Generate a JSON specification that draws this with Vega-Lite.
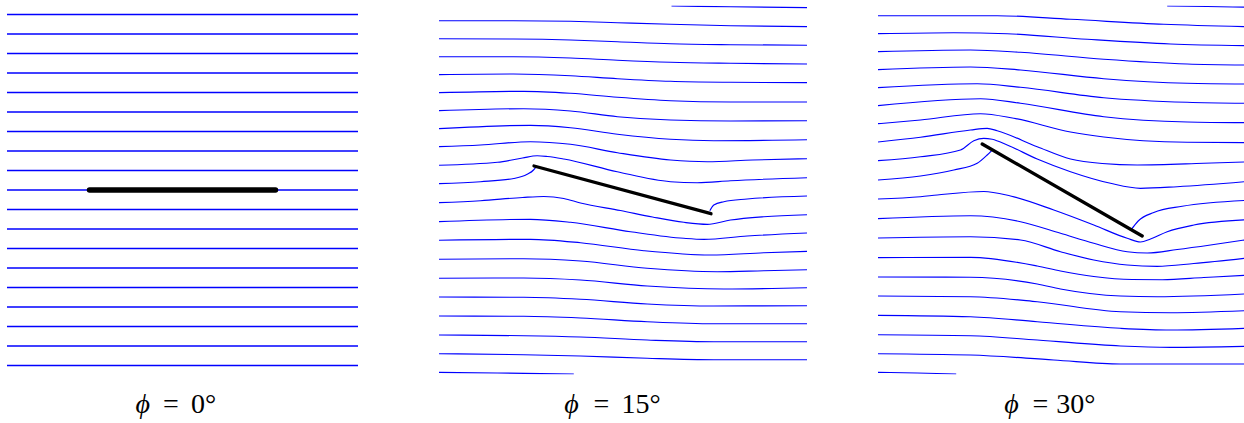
{
"$schema": "https://vega.github.io/schema/vega-lite/v6.json",
"padding": {"left": 7, "top": 5.5, "right": 0, "bottom": 0},
"spacing": 71,
"bounds": "flush",
"config": {"view": {"stroke": null}},
"datasets": {
"p1": [
{"line":"a","x":-1.755,"y":1.755},{"line":"a","x":1.755,"y":1.755},
{"line":"b","x":-1.755,"y":1.56},{"line":"b","x":1.755,"y":1.56},
{"line":"c","x":-1.755,"y":1.365},{"line":"c","x":1.755,"y":1.365},
{"line":"d","x":-1.755,"y":1.17},{"line":"d","x":1.755,"y":1.17},
{"line":"e","x":-1.755,"y":0.975},{"line":"e","x":1.755,"y":0.975},
{"line":"f","x":-1.755,"y":0.78},{"line":"f","x":1.755,"y":0.78},
{"line":"g","x":-1.755,"y":0.585},{"line":"g","x":1.755,"y":0.585},
{"line":"h","x":-1.755,"y":0.39},{"line":"h","x":1.755,"y":0.39},
{"line":"i","x":-1.755,"y":0.195},{"line":"i","x":1.755,"y":0.195},
{"line":"j","x":-1.755,"y":0},{"line":"j","x":1.755,"y":0},
{"line":"k","x":-1.755,"y":-0.195},{"line":"k","x":1.755,"y":-0.195},
{"line":"l","x":-1.755,"y":-0.39},{"line":"l","x":1.755,"y":-0.39},
{"line":"m","x":-1.755,"y":-0.585},{"line":"m","x":1.755,"y":-0.585},
{"line":"n","x":-1.755,"y":-0.78},{"line":"n","x":1.755,"y":-0.78},
{"line":"o","x":-1.755,"y":-0.975},{"line":"o","x":1.755,"y":-0.975},
{"line":"p","x":-1.755,"y":-1.17},{"line":"p","x":1.755,"y":-1.17},
{"line":"q","x":-1.755,"y":-1.365},{"line":"q","x":1.755,"y":-1.365},
{"line":"r","x":-1.755,"y":-1.56},{"line":"r","x":1.755,"y":-1.56},
{"line":"s","x":-1.755,"y":-1.755},{"line":"s","x":1.755,"y":-1.755}
],
"plate1": [{"x":-0.93,"y":0},{"x":0.93,"y":0}],
"p2": [
{"line":"T","x":0.49,"y":1.84},{"line":"T","x":1.08,"y":1.833},{"line":"T","x":1.845,"y":1.823},
{"line":"A","x":-1.835,"y":1.693},{"line":"A","x":-1.09,"y":1.693},{"line":"A","x":-0.52,"y":1.687},{"line":"A","x":-0.05,"y":1.673},{"line":"A","x":0.48,"y":1.657},{"line":"A","x":1.08,"y":1.643},{"line":"A","x":1.845,"y":1.633},
{"line":"B","x":-1.835,"y":1.513},{"line":"B","x":-1.09,"y":1.51},{"line":"B","x":-0.52,"y":1.5},{"line":"B","x":-0.05,"y":1.483},{"line":"B","x":0.48,"y":1.463},{"line":"B","x":1.08,"y":1.453},{"line":"B","x":1.845,"y":1.447},
{"line":"C","x":-1.835,"y":1.333},{"line":"C","x":-1.09,"y":1.333},{"line":"C","x":-0.52,"y":1.32},{"line":"C","x":-0.05,"y":1.297},{"line":"C","x":0.48,"y":1.277},{"line":"C","x":1.08,"y":1.267},{"line":"C","x":1.845,"y":1.26},
{"line":"D","x":-1.835,"y":1.153},{"line":"D","x":-1.09,"y":1.16},{"line":"D","x":-0.52,"y":1.143},{"line":"D","x":-0.05,"y":1.113},{"line":"D","x":0.48,"y":1.087},{"line":"D","x":1.08,"y":1.077},{"line":"D","x":1.845,"y":1.073},
{"line":"E","x":-1.835,"y":0.973},{"line":"E","x":-0.987,"y":0.987},{"line":"E","x":-0.52,"y":0.967},{"line":"E","x":-0.05,"y":0.927},{"line":"E","x":0.48,"y":0.893},{"line":"E","x":1.08,"y":0.88},{"line":"E","x":1.845,"y":0.88},
{"line":"F","x":-1.835,"y":0.793},{"line":"F","x":-0.987,"y":0.813},{"line":"F","x":-0.52,"y":0.79},{"line":"F","x":-0.05,"y":0.733},{"line":"F","x":0.48,"y":0.7},{"line":"F","x":1.08,"y":0.69},{"line":"F","x":1.845,"y":0.693},
{"line":"G","x":-1.835,"y":0.613},{"line":"G","x":-0.92,"y":0.647},{"line":"G","x":-0.52,"y":0.623},{"line":"G","x":-0.05,"y":0.557},{"line":"G","x":0.48,"y":0.507},{"line":"G","x":0.913,"y":0.493},{"line":"G","x":1.845,"y":0.503},
{"line":"H","x":-1.835,"y":0.433},{"line":"H","x":-1.42,"y":0.45},{"line":"H","x":-0.92,"y":0.483},{"line":"H","x":-0.52,"y":0.457},{"line":"H","x":-0.05,"y":0.373},{"line":"H","x":0.48,"y":0.3},{"line":"H","x":0.847,"y":0.283},{"line":"H","x":1.3,"y":0.3},{"line":"H","x":1.845,"y":0.313},
{"line":"I","x":-1.835,"y":0.247},{"line":"I","x":-1.25,"y":0.277},{"line":"I","x":-1.0,"y":0.32},{"line":"I","x":-0.853,"y":0.343},{"line":"I","x":-0.75,"y":0.335},{"line":"I","x":-0.587,"y":0.31},{"line":"I","x":-0.053,"y":0.183},{"line":"I","x":0.48,"y":0.083},{"line":"I","x":0.747,"y":0.073},{"line":"I","x":1.08,"y":0.093},{"line":"I","x":1.845,"y":0.123},
{"line":"Jf","x":-1.835,"y":0.063},{"line":"Jf","x":-1.42,"y":0.083},{"line":"Jf","x":-1.087,"y":0.115},{"line":"Jf","x":-0.953,"y":0.157},{"line":"Jf","x":-0.89,"y":0.2},{"line":"Jf","x":-0.865,"y":0.232},
{"line":"Jr","x":0.873,"y":-0.207},{"line":"Jr","x":0.913,"y":-0.15},{"line":"Jr","x":1.013,"y":-0.117},{"line":"Jr","x":1.247,"y":-0.09},{"line":"Jr","x":1.845,"y":-0.06},
{"line":"K","x":-1.835,"y":-0.127},{"line":"K","x":-1.42,"y":-0.107},{"line":"K","x":-1.0,"y":-0.075},{"line":"K","x":-0.787,"y":-0.065},{"line":"K","x":-0.587,"y":-0.085},{"line":"K","x":-0.42,"y":-0.13},{"line":"K","x":-0.02,"y":-0.205},{"line":"K","x":0.3,"y":-0.27},{"line":"K","x":0.613,"y":-0.323},{"line":"K","x":0.847,"y":-0.343},{"line":"K","x":1.08,"y":-0.3},{"line":"K","x":1.413,"y":-0.267},{"line":"K","x":1.845,"y":-0.247},
{"line":"L","x":-1.835,"y":-0.317},{"line":"L","x":-0.92,"y":-0.293},{"line":"L","x":-0.52,"y":-0.323},{"line":"L","x":0.08,"y":-0.417},{"line":"L","x":0.613,"y":-0.483},{"line":"L","x":0.813,"y":-0.493},{"line":"L","x":1.247,"y":-0.46},{"line":"L","x":1.845,"y":-0.43},
{"line":"M","x":-1.835,"y":-0.503},{"line":"M","x":-0.92,"y":-0.493},{"line":"M","x":-0.42,"y":-0.527},{"line":"M","x":0.213,"y":-0.607},{"line":"M","x":0.88,"y":-0.65},{"line":"M","x":1.413,"y":-0.627},{"line":"M","x":1.845,"y":-0.613},
{"line":"N","x":-1.835,"y":-0.693},{"line":"N","x":-0.987,"y":-0.687},{"line":"N","x":-0.42,"y":-0.71},{"line":"N","x":0.247,"y":-0.783},{"line":"N","x":0.947,"y":-0.817},{"line":"N","x":1.413,"y":-0.807},{"line":"N","x":1.845,"y":-0.797},
{"line":"O","x":-1.835,"y":-0.883},{"line":"O","x":-0.987,"y":-0.88},{"line":"O","x":-0.42,"y":-0.9},{"line":"O","x":0.247,"y":-0.96},{"line":"O","x":1.013,"y":-0.99},{"line":"O","x":1.845,"y":-0.977},
{"line":"P","x":-1.835,"y":-1.07},{"line":"P","x":-0.987,"y":-1.073},{"line":"P","x":-0.42,"y":-1.093},{"line":"P","x":0.247,"y":-1.14},{"line":"P","x":0.913,"y":-1.16},{"line":"P","x":1.845,"y":-1.157},
{"line":"Q","x":-1.835,"y":-1.26},{"line":"Q","x":-0.987,"y":-1.263},{"line":"Q","x":-0.42,"y":-1.28},{"line":"Q","x":0.247,"y":-1.317},{"line":"Q","x":0.913,"y":-1.337},{"line":"Q","x":1.845,"y":-1.337},
{"line":"R","x":-1.835,"y":-1.45},{"line":"R","x":-0.987,"y":-1.457},{"line":"R","x":-0.42,"y":-1.47},{"line":"R","x":0.247,"y":-1.5},{"line":"R","x":0.913,"y":-1.517},{"line":"R","x":1.845,"y":-1.517},
{"line":"S","x":-1.835,"y":-1.637},{"line":"S","x":-0.987,"y":-1.647},{"line":"S","x":-0.42,"y":-1.66},{"line":"S","x":0.247,"y":-1.683},{"line":"S","x":0.913,"y":-1.697},{"line":"S","x":1.845,"y":-1.697},
{"line":"U","x":-1.835,"y":-1.823},{"line":"U","x":-1.253,"y":-1.83},{"line":"U","x":-0.487,"y":-1.84}
],
"plate2": [{"x":-0.885,"y":0.24},{"x":0.885,"y":-0.237}],
"p3": [
{"line":"T","x":1.05,"y":1.84},{"line":"T","x":1.45,"y":1.835},{"line":"T","x":1.823,"y":1.828},
{"line":"A","x":-1.842,"y":1.743},{"line":"A","x":-0.65,"y":1.743},{"line":"A","x":0.083,"y":1.707},{"line":"A","x":1.016,"y":1.657},{"line":"A","x":1.823,"y":1.633},
{"line":"B","x":-1.842,"y":1.563},{"line":"B","x":-1.084,"y":1.573},{"line":"B","x":-0.55,"y":1.563},{"line":"B","x":0.25,"y":1.507},{"line":"B","x":1.083,"y":1.46},{"line":"B","x":1.823,"y":1.443},
{"line":"C","x":-1.842,"y":1.383},{"line":"C","x":-0.917,"y":1.4},{"line":"C","x":-0.417,"y":1.377},{"line":"C","x":0.416,"y":1.307},{"line":"C","x":1.25,"y":1.26},{"line":"C","x":1.823,"y":1.25},
{"line":"D","x":-1.842,"y":1.203},{"line":"D","x":-0.917,"y":1.23},{"line":"D","x":-0.417,"y":1.2},{"line":"D","x":0.416,"y":1.113},{"line":"D","x":1.25,"y":1.067},{"line":"D","x":1.823,"y":1.06},
{"line":"E","x":-1.842,"y":1.023},{"line":"E","x":-0.85,"y":1.063},{"line":"E","x":-0.417,"y":1.027},{"line":"E","x":0.416,"y":0.923},{"line":"E","x":1.25,"y":0.877},{"line":"E","x":1.823,"y":0.867},
{"line":"F","x":-1.842,"y":0.843},{"line":"F","x":-0.817,"y":0.913},{"line":"F","x":-0.417,"y":0.867},{"line":"F","x":0.416,"y":0.733},{"line":"F","x":1.25,"y":0.68},{"line":"F","x":1.823,"y":0.673},
{"line":"G","x":-1.842,"y":0.663},{"line":"G","x":-1.417,"y":0.7},{"line":"G","x":-0.817,"y":0.763},{"line":"G","x":-0.484,"y":0.717},{"line":"G","x":0.083,"y":0.58},{"line":"G","x":0.416,"y":0.53},{"line":"G","x":1.25,"y":0.477},{"line":"G","x":1.823,"y":0.473},
{"line":"H","x":-1.842,"y":0.48},{"line":"H","x":-1.417,"y":0.527},{"line":"H","x":-0.917,"y":0.6},{"line":"H","x":-0.75,"y":0.617},{"line":"H","x":-0.65,"y":0.593},{"line":"H","x":-0.25,"y":0.433},{"line":"H","x":0.083,"y":0.31},{"line":"H","x":0.4,"y":0.265},{"line":"H","x":0.75,"y":0.25},{"line":"H","x":1.416,"y":0.267},{"line":"H","x":1.823,"y":0.28},
{"line":"I","x":-1.842,"y":0.293},{"line":"I","x":-1.417,"y":0.333},{"line":"I","x":-1.017,"y":0.4},{"line":"I","x":-0.884,"y":0.493},{"line":"I","x":-0.784,"y":0.517},{"line":"I","x":-0.7,"y":0.507},{"line":"I","x":-0.55,"y":0.45},{"line":"I","x":-0.25,"y":0.31},{"line":"I","x":0.083,"y":0.183},{"line":"I","x":0.483,"y":0.067},{"line":"I","x":0.783,"y":0.017},{"line":"I","x":1.15,"y":0.033},{"line":"I","x":1.823,"y":0.083},
{"line":"Jf","x":-1.842,"y":0.1},{"line":"Jf","x":-1.417,"y":0.14},{"line":"Jf","x":-1.084,"y":0.2},{"line":"Jf","x":-0.85,"y":0.267},{"line":"Jf","x":-0.75,"y":0.35},{"line":"Jf","x":-0.7,"y":0.4},
{"line":"Jr","x":0.69,"y":-0.397},{"line":"Jr","x":0.76,"y":-0.31},{"line":"Jr","x":0.916,"y":-0.225},{"line":"Jr","x":1.2,"y":-0.163},{"line":"Jr","x":1.823,"y":-0.105},
{"line":"K","x":-1.842,"y":-0.09},{"line":"K","x":-1.417,"y":-0.067},{"line":"K","x":-1.25,"y":-0.05},{"line":"K","x":-0.784,"y":-0.015},{"line":"K","x":-0.517,"y":-0.06},{"line":"K","x":-0.084,"y":-0.2},{"line":"K","x":0.316,"y":-0.35},{"line":"K","x":0.65,"y":-0.483},{"line":"K","x":0.783,"y":-0.52},{"line":"K","x":0.883,"y":-0.49},{"line":"K","x":1.05,"y":-0.417},{"line":"K","x":1.316,"y":-0.35},{"line":"K","x":1.823,"y":-0.298},
{"line":"L","x":-1.842,"y":-0.287},{"line":"L","x":-0.917,"y":-0.257},{"line":"L","x":-0.417,"y":-0.317},{"line":"L","x":-0.017,"y":-0.433},{"line":"L","x":0.316,"y":-0.533},{"line":"L","x":0.65,"y":-0.617},{"line":"L","x":0.85,"y":-0.63},{"line":"L","x":1.15,"y":-0.595},{"line":"L","x":1.483,"y":-0.55},{"line":"L","x":1.823,"y":-0.5},
{"line":"M","x":-1.842,"y":-0.48},{"line":"M","x":-0.917,"y":-0.467},{"line":"M","x":-0.417,"y":-0.5},{"line":"M","x":-0.017,"y":-0.617},{"line":"M","x":0.316,"y":-0.7},{"line":"M","x":0.65,"y":-0.75},{"line":"M","x":0.95,"y":-0.763},{"line":"M","x":1.316,"y":-0.735},{"line":"M","x":1.823,"y":-0.683},
{"line":"N","x":-1.842,"y":-0.677},{"line":"N","x":-0.917,"y":-0.673},{"line":"N","x":-0.25,"y":-0.76},{"line":"N","x":-0.017,"y":-0.81},{"line":"N","x":0.316,"y":-0.865},{"line":"N","x":0.7,"y":-0.895},{"line":"N","x":1.0,"y":-0.897},{"line":"N","x":1.416,"y":-0.875},{"line":"N","x":1.823,"y":-0.853},
{"line":"O","x":-1.842,"y":-0.87},{"line":"O","x":-0.917,"y":-0.873},{"line":"O","x":-0.25,"y":-0.94},{"line":"O","x":-0.017,"y":-0.99},{"line":"O","x":0.583,"y":-1.06},{"line":"O","x":0.95,"y":-1.067},{"line":"O","x":1.823,"y":-1.04},
{"line":"P","x":-1.842,"y":-1.06},{"line":"P","x":-0.917,"y":-1.067},{"line":"P","x":-0.25,"y":-1.117},{"line":"P","x":0.583,"y":-1.217},{"line":"P","x":1.083,"y":-1.227},{"line":"P","x":1.823,"y":-1.207},
{"line":"Q","x":-1.842,"y":-1.253},{"line":"Q","x":-0.917,"y":-1.267},{"line":"Q","x":-0.25,"y":-1.317},{"line":"Q","x":0.583,"y":-1.383},{"line":"Q","x":1.083,"y":-1.4},{"line":"Q","x":1.823,"y":-1.383},
{"line":"R","x":-1.842,"y":-1.447},{"line":"R","x":-0.917,"y":-1.457},{"line":"R","x":-0.25,"y":-1.5},{"line":"R","x":0.583,"y":-1.56},{"line":"R","x":1.083,"y":-1.573},{"line":"R","x":1.823,"y":-1.563},
{"line":"S","x":-1.842,"y":-1.637},{"line":"S","x":-0.917,"y":-1.65},{"line":"S","x":-0.084,"y":-1.7},{"line":"S","x":0.583,"y":-1.74},{"line":"S","x":1.823,"y":-1.74},
{"line":"U","x":-1.842,"y":-1.823},{"line":"U","x":-1.45,"y":-1.83},{"line":"U","x":-1.06,"y":-1.84}
],
"plate3": [{"x":-0.8,"y":0.46},{"x":0.8,"y":-0.46}]
},
"hconcat": [
{
"width": 360.5, "height": 369,
"layer": [
{"data": {"name": "p1"}, "mark": {"type": "line", "color": "#0000ff", "strokeWidth": 1.4, "strokeJoin": "round", "clip": true},
 "encoding": {"x": {"field": "x", "type": "quantitative", "scale": {"domain": [-1.755, 1.85], "nice": false, "zero": false}, "axis": null},
 "y": {"field": "y", "type": "quantitative", "scale": {"domain": [-1.845, 1.845], "nice": false, "zero": false}, "axis": null},
 "detail": {"field": "line", "type": "nominal"}}},
{"data": {"name": "plate1"}, "mark": {"type": "line", "color": "#000000", "strokeWidth": 5.5, "strokeCap": "round", "clip": true},
 "encoding": {"x": {"field": "x", "type": "quantitative"}, "y": {"field": "y", "type": "quantitative"}}},
{"data": {"values": [{"label": "ϕ"}]}, "mark": {"type": "text", "font": "Liberation Serif", "fontStyle": "italic", "fontSize": 28, "align": "right", "baseline": "alphabetic", "color": "#000000"},
 "encoding": {"text": {"field": "label"}, "x": {"datum": -0.325, "type": "quantitative"}, "y": {"datum": -2.23, "type": "quantitative"}}},
{"data": {"values": [{"label": "="}]}, "mark": {"type": "text", "font": "Liberation Serif", "fontSize": 28, "align": "center", "baseline": "alphabetic", "color": "#000000"},
 "encoding": {"text": {"field": "label"}, "x": {"datum": -0.117, "type": "quantitative"}, "y": {"datum": -2.23, "type": "quantitative"}}},
{"data": {"values": [{"label": "0°"}]}, "mark": {"type": "text", "font": "Liberation Serif", "fontSize": 28, "align": "left", "baseline": "alphabetic", "color": "#000000"},
 "encoding": {"text": {"field": "label"}, "x": {"datum": 0.085, "type": "quantitative"}, "y": {"datum": -2.23, "type": "quantitative"}}}
]
},
{
"width": 368, "height": 369,
"layer": [
{"data": {"name": "p2"}, "mark": {"type": "line", "color": "#0000ff", "strokeWidth": 1.15, "strokeJoin": "round", "interpolate": "monotone", "clip": true},
 "encoding": {"x": {"field": "x", "type": "quantitative", "scale": {"domain": [-1.835, 1.845], "nice": false, "zero": false}, "axis": null},
 "y": {"field": "y", "type": "quantitative", "scale": {"domain": [-1.845, 1.845], "nice": false, "zero": false}, "axis": null},
 "detail": {"field": "line", "type": "nominal"}}},
{"data": {"name": "plate2"}, "mark": {"type": "line", "color": "#000000", "strokeWidth": 3.3, "strokeCap": "round", "clip": true},
 "encoding": {"x": {"field": "x", "type": "quantitative"}, "y": {"field": "y", "type": "quantitative"}}},
{"data": {"values": [{"label": "ϕ"}]}, "mark": {"type": "text", "font": "Liberation Serif", "fontStyle": "italic", "fontSize": 28, "align": "right", "baseline": "alphabetic", "color": "#000000"},
 "encoding": {"text": {"field": "label"}, "x": {"datum": -0.437, "type": "quantitative"}, "y": {"datum": -2.23, "type": "quantitative"}}},
{"data": {"values": [{"label": "="}]}, "mark": {"type": "text", "font": "Liberation Serif", "fontSize": 28, "align": "center", "baseline": "alphabetic", "color": "#000000"},
 "encoding": {"text": {"field": "label"}, "x": {"datum": -0.212, "type": "quantitative"}, "y": {"datum": -2.23, "type": "quantitative"}}},
{"data": {"values": [{"label": "15°"}]}, "mark": {"type": "text", "font": "Liberation Serif", "fontSize": 28, "align": "left", "baseline": "alphabetic", "color": "#000000"},
 "encoding": {"text": {"field": "label"}, "x": {"datum": -0.01, "type": "quantitative"}, "y": {"datum": -2.23, "type": "quantitative"}}}
]
},
{
"width": 366.5, "height": 369,
"layer": [
{"data": {"name": "p3"}, "mark": {"type": "line", "color": "#0000ff", "strokeWidth": 1.15, "strokeJoin": "round", "interpolate": "monotone", "clip": true},
 "encoding": {"x": {"field": "x", "type": "quantitative", "scale": {"domain": [-1.842, 1.823], "nice": false, "zero": false}, "axis": null},
 "y": {"field": "y", "type": "quantitative", "scale": {"domain": [-1.845, 1.845], "nice": false, "zero": false}, "axis": null},
 "detail": {"field": "line", "type": "nominal"}}},
{"data": {"name": "plate3"}, "mark": {"type": "line", "color": "#000000", "strokeWidth": 3.3, "strokeCap": "round", "clip": true},
 "encoding": {"x": {"field": "x", "type": "quantitative"}, "y": {"field": "y", "type": "quantitative"}}},
{"data": {"values": [{"label": "ϕ"}]}, "mark": {"type": "text", "font": "Liberation Serif", "fontStyle": "italic", "fontSize": 28, "align": "right", "baseline": "alphabetic", "color": "#000000"},
 "encoding": {"text": {"field": "label"}, "x": {"datum": -0.434, "type": "quantitative"}, "y": {"datum": -2.23, "type": "quantitative"}}},
{"data": {"values": [{"label": "="}]}, "mark": {"type": "text", "font": "Liberation Serif", "fontSize": 28, "align": "center", "baseline": "alphabetic", "color": "#000000"},
 "encoding": {"text": {"field": "label"}, "x": {"datum": -0.217, "type": "quantitative"}, "y": {"datum": -2.23, "type": "quantitative"}}},
{"data": {"values": [{"label": "30°"}]}, "mark": {"type": "text", "font": "Liberation Serif", "fontSize": 28, "align": "left", "baseline": "alphabetic", "color": "#000000"},
 "encoding": {"text": {"field": "label"}, "x": {"datum": -0.06, "type": "quantitative"}, "y": {"datum": -2.23, "type": "quantitative"}}}
]
}
]
}
